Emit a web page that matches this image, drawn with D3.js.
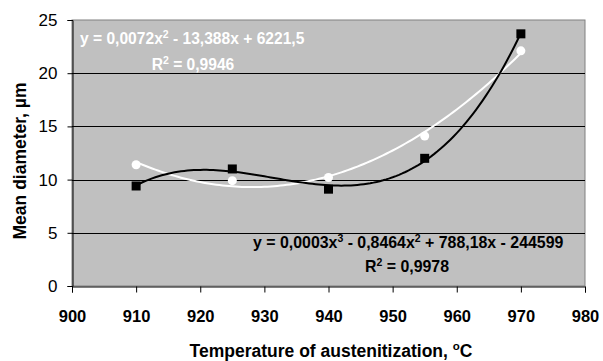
<!DOCTYPE html>
<html>
<head>
<meta charset="utf-8">
<script src="https://cdn.jsdelivr.net/npm/d3@7"></script>
<style>
  body { margin: 0; background: #fff; }
  text { font-family: "Liberation Sans", Arial, sans-serif; }
</style>
</head>
<body>
<script>
// chart size
const width = 603;
const height = 361;
const margin = { top: 20, right: 18, bottom: 75, left: 72 };

// data
const temps = [910, 925, 940, 955, 970];
const blackSeries = [9.4, 11.0, 9.1, 12.0, 23.7];
const whiteSeries = [11.4, 9.9, 10.2, 14.1, 22.1];
const xTicks = [900, 910, 920, 930, 940, 950, 960, 970, 980];
const yTicks = [0, 5, 10, 15, 20, 25];

const svg = d3.select('body').append('svg')
    .attr('width', width).attr('height', height);

const x = d3.scaleLinear().domain([900, 980]).range([margin.left, width - margin.right]);
const y = d3.scaleLinear().domain([0, 25]).range([height - margin.bottom, margin.top]);

// plot background
svg.append('rect')
    .attr('x', x(900)).attr('y', y(25))
    .attr('width', x(980) - x(900)).attr('height', y(0) - y(25))
    .attr('fill', '#c0c0c0').attr('stroke', '#808080').attr('stroke-width', 1);

// gridlines
svg.append('g').selectAll('line')
    .data(yTicks.filter(d => d > 0 && d < 25))
    .enter().append('line')
    .attr('x1', x(900)).attr('x2', x(980))
    .attr('y1', d => Math.round(y(d)) + 0.5).attr('y2', d => Math.round(y(d)) + 0.5)
    .attr('stroke', '#000').attr('stroke-width', 1);

// axes
const yAxis = svg.append('g')
    .attr('transform', 'translate(' + (x(900) + 0.5) + ',0)')
    .call(d3.axisLeft(y).tickValues(yTicks).tickSize(5).tickPadding(10));
const xAxis = svg.append('g')
    .attr('transform', 'translate(0,' + (y(0) + 0.5) + ')')
    .call(d3.axisBottom(x).tickValues(xTicks).tickSize(6).tickPadding(18));
[yAxis, xAxis].forEach(function(a){
    a.select('.domain').attr('stroke', '#000');
    a.selectAll('.tick line').attr('stroke', '#000');
    a.selectAll('text').attr('fill', '#000')
        .attr('font-family', '"Liberation Sans", Arial, sans-serif');
});
yAxis.selectAll('text').attr('font-size', '17px');
xAxis.selectAll('text').attr('font-size', '16.5px').attr('font-weight', 'bold');

// least squares polynomial fit (x centred to keep it stable)
function polyFit(xs, ys, deg) {
    const n = deg + 1;
    const A = [];
    for (let r = 0; r < n; r++) {
        A.push(new Array(n + 1).fill(0));
    }
    xs.forEach(function(xv, i){
        const t = (xv - 940) / 10;
        for (let r = 0; r < n; r++) {
            for (let c = 0; c < n; c++) A[r][c] += Math.pow(t, r + c);
            A[r][n] += ys[i] * Math.pow(t, r);
        }
    });
    for (let p = 0; p < n; p++) {
        let best = p;
        for (let r = p + 1; r < n; r++) if (Math.abs(A[r][p]) > Math.abs(A[best][p])) best = r;
        const tmp = A[p]; A[p] = A[best]; A[best] = tmp;
        for (let r = 0; r < n; r++) {
            if (r === p) continue;
            const f = A[r][p] / A[p][p];
            for (let c = p; c <= n; c++) A[r][c] -= f * A[p][c];
        }
    }
    const coef = A.map((row, i) => row[n] / row[i]);
    return function(xv){
        const t = (xv - 940) / 10;
        return coef.reduce((s, c, i) => s + c * Math.pow(t, i), 0);
    };
}

const fitBlack = polyFit(temps, blackSeries, 3);
const fitWhite = polyFit(temps, whiteSeries, 2);
const curveX = d3.range(910, 970.01, 0.5);
const line = d3.line().x(d => x(d[0])).y(d => y(d[1]));

svg.append('path')
    .datum(curveX.map(t => [t, fitWhite(t)]))
    .attr('d', line).attr('fill', 'none')
    .attr('stroke', '#fff').attr('stroke-width', 2);
svg.append('path')
    .datum(curveX.map(t => [t, fitBlack(t)]))
    .attr('d', line).attr('fill', 'none')
    .attr('stroke', '#000').attr('stroke-width', 2);

// markers
svg.append('g').selectAll('circle')
    .data(temps)
    .enter().append('circle')
    .attr('cx', d => x(d))
    .attr('cy', (d, i) => y(whiteSeries[i]))
    .attr('r', 4.5)
    .attr('fill', '#fff');
svg.append('g').selectAll('rect')
    .data(temps)
    .enter().append('rect')
    .attr('x', d => x(d) - 4.5)
    .attr('y', (d, i) => y(blackSeries[i]) - 4.5)
    .attr('width', 9).attr('height', 9)
    .attr('fill', '#000');

// equation labels; pieces are [text, superscript?]
function eqText(px, py, parts, color, anchor, size) {
    const t = svg.append('text')
        .attr('x', px).attr('y', py)
        .attr('fill', color).attr('font-weight', 'bold')
        .attr('font-size', size + 'px').attr('text-anchor', anchor);
    let raised = false;
    parts.forEach(function(p){
        const s = t.append('tspan').text(p[0]);
        if (p[1] && !raised) { s.attr('dy', -6).attr('font-size', '10.5px'); raised = true; }
        else if (!p[1] && raised) { s.attr('dy', 6); raised = false; }
    });
}
eqText(80, 44, [['y = 0,0072x', 0], ['2', 1], [' - 13,388x + 6221,5', 0]], '#fff', 'start', 15.6);
eqText(193, 70, [['R', 0], ['2', 1], [' = 0,9946', 0]], '#fff', 'middle', 15.6);
eqText(253, 248, [['y = 0,0003x', 0], ['3', 1], [' - 0,8464x', 0], ['2', 1], [' + 788,18x - 244599', 0]], '#000', 'start', 15.9);
eqText(407, 272, [['R', 0], ['2', 1], [' = 0,9978', 0]], '#000', 'middle', 15.9);

// axis titles
svg.append('text')
    .attr('transform', 'translate(26,161) rotate(-90)')
    .attr('text-anchor', 'middle')
    .attr('font-weight', 'bold').attr('font-size', '17.5px')
    .text('Mean diameter, µm');

const xt = svg.append('text')
    .attr('x', 331).attr('y', 357)
    .attr('text-anchor', 'middle')
    .attr('font-weight', 'bold').attr('font-size', '17.5px');
xt.append('tspan').text('Temperature of austenitization, ');
xt.append('tspan').attr('dy', -7).attr('font-size', '11.5px').text('o');
xt.append('tspan').attr('dy', 7).text('C');
</script>
</body>
</html>
